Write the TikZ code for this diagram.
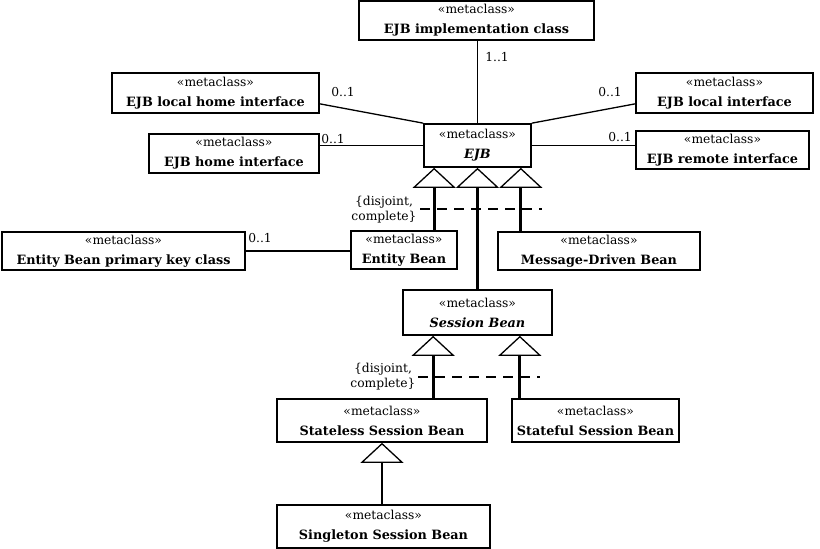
\documentclass[tikz,border=0pt]{standalone}
\usepackage{fontspec}
\setmainfont{DejaVu Serif}
\usetikzlibrary{arrows.meta,calc}
\newcommand{\mcname}[1]{{\fontsize{12.8}{20}\selectfont\bfseries #1}}

\tikzset{
	meta/.style={draw, line width=1.7pt, align=center, inner sep=0pt, font=\fontsize{12.3}{20}\selectfont},
	assoc/.style={line width=1.3pt},
	gen/.style={line width=2.8pt, -{Triangle[open, length=20pt, width=43pt, line width=1.3pt]}},
	gset/.style={line width=2.8pt, dash pattern=on 10pt off 7pt},
	mult/.style={font=\fontsize{12.3}{15}\selectfont, inner sep=0pt},
}

\begin{document}
\begin{tikzpicture}[x=1pt, y=-1pt]
			%%%%% START %%%%%
			\useasboundingbox (0,0) rectangle (820,549);
			
			\node[meta, minimum width=235pt, minimum height=39pt] (impl) at (476.5,20.5) {«metaclass»\\\mcname{EJB implementation class}};
			\node[meta, minimum width=207pt, minimum height=40pt] (lochome) at (215.5,93) {«metaclass»\\\mcname{EJB local home interface}};
			\node[meta, minimum width=170pt, minimum height=39pt] (home) at (234,153.5) {«metaclass»\\\mcname{EJB home interface}};
			\node[meta, minimum width=177pt, minimum height=40pt] (local) at (724.5,93) {«metaclass»\\\mcname{EJB local interface}};
			\node[meta, minimum width=173pt, minimum height=38pt] (remote) at (722.5,150) {«metaclass»\\\mcname{EJB remote interface}};
			\node[meta, minimum width=107pt, minimum height=43pt] (ejb) at (477.5,145.5) {«metaclass»\\\mcname{\itshape EJB}};
			
			\node[meta, minimum width=243pt, minimum height=38pt] (pk) at (123.5,251) {«metaclass»\\\mcname{Entity Bean primary key class}};
			\node[meta, minimum width=106pt, minimum height=38pt] (entity) at (404,250) {«metaclass»\\\mcname{Entity Bean}};
			\node[meta, minimum width=202pt, minimum height=38pt] (mdb) at (599,251) {«metaclass»\\\mcname{Message-Driven Bean}};
			
			\node[meta, minimum width=149pt, minimum height=45pt] (session) at (477.5,312.5) {«metaclass»\\\mcname{\itshape Session Bean}};
			\node[meta, minimum width=210pt, minimum height=43pt] (stateless) at (382,420.5) {«metaclass»\\\mcname{Stateless Session Bean}};
			\node[meta, minimum width=167pt, minimum height=43pt] (stateful) at (595.5,420.5) {«metaclass»\\\mcname{Stateful Session Bean}};
			\node[meta, minimum width=213pt, minimum height=43pt] (singleton) at (383.5,526.5) {«metaclass»\\\mcname{Singleton Session Bean}};
			
			% associations
			\draw[assoc] (ejb.north |- impl.south) -- (ejb.north);
			\draw[assoc] ($(lochome.south east)+(0,-10)$) -- (ejb.north west);
			\draw[assoc] (ejb.west) -- (ejb.west -| home.east);
			\draw[assoc] (ejb.north east) -- ($(local.south west)+(0,-10)$);
			\draw[assoc] (ejb.east) -- (ejb.east -| remote.west);
			\draw[assoc] (pk.east) -- (pk.east -| entity.west);
			
			\node[mult] (m1) at (497,57) {1..1};
			\node[mult] (m2) at (343,92) {0..1};
			\node[mult] (m3) at (333,139) {0..1};
			\node[mult] (m4) at (610,92) {0..1};
			\node[mult] (m5) at (620,137) {0..1};
			\node[mult] (m6) at (260,238) {0..1};
			
			% generalizations of EJB
			\coordinate (e1) at ($(ejb.south west)+(11,0)$);
			\coordinate (e3) at ($(ejb.south east)+(-11,0)$);
			\draw[gen] (entity.north -| e1) -- (e1);
			\draw[gen] (session.north) -- (ejb.south);
			\draw[gen] (mdb.north -| e3) -- (e3);
			\draw[gset] (420,209) -- (542,209);
			\node[mult, align=center] (gs1) at (384,210) {\{disjoint,\\complete\}};
			
			% generalizations of Session Bean
			\coordinate (s1) at ($(session.south west)+(31,0)$);
			\coordinate (s2) at ($(session.south east)+(-33,0)$);
			\draw[gen] (stateless.north -| s1) -- (s1);
			\draw[gen] (stateful.north -| s2) -- (s2);
			\draw[gset] (418,377) -- (540,377);
			\node[mult, align=center] (gs2) at (383,377) {\{disjoint,\\complete\}};
			
			\draw[gen] (singleton.north -| stateless.south) -- (stateless.south);
			
			%%%%% END %%%%%
\end{tikzpicture}
\end{document}
